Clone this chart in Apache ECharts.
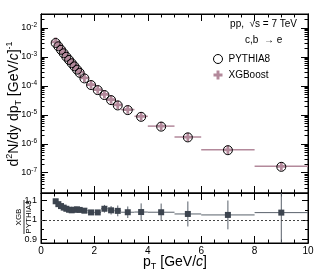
<!DOCTYPE html>
<html><head><meta charset="utf-8">
<script src="https://cdn.jsdelivr.net/npm/echarts@6/dist/echarts.min.js"></script>
<style>html,body{margin:0;padding:0;background:#fff}#c{width:319px;height:277px}</style>
</head><body><div id="c"></div>
<script>
// ---- data ----
const binLo = [0.5,0.6,0.7,0.8,0.9,1.0,1.1,1.2,1.3,1.4,1.5,1.75,2.0,2.25,2.5,2.75,3.0,3.5,4,5,6,8];
const binHi = [0.6,0.7,0.8,0.9,1.0,1.1,1.2,1.3,1.4,1.5,1.75,2.0,2.25,2.5,2.75,3.0,3.5,4,5,6,8,10];
const pythia8 = [3.0e-3,2.3e-3,1.74e-3,1.32e-3,1.0e-3,7.8e-4,6.0e-4,4.7e-4,3.6e-4,2.8e-4,1.8e-4,1.06e-4,7.1e-5,4.8e-5,3.2e-5,2.1e-5,1.45e-5,8.5e-6,3.9e-6,1.66e-6,6.0e-7,1.6e-7];
const xgboost = [3.29e-3,2.49e-3,1.865e-3,1.40e-3,1.06e-3,8.2e-4,6.3e-4,4.95e-4,3.8e-4,2.95e-4,1.89e-4,1.10e-4,7.4e-5,5.1e-5,3.36e-5,2.2e-5,1.51e-5,8.85e-6,4.06e-6,1.71e-6,6.16e-7,1.66e-7];
const ratio = [1.097,1.082,1.072,1.064,1.058,1.053,1.050,1.053,1.055,1.052,1.048,1.039,1.039,1.058,1.050,1.047,1.040,1.041,1.040,1.031,1.026,1.038];
const ratioErr = [0.003,0.003,0.003,0.003,0.003,0.003,0.003,0.004,0.004,0.004,0.005,0.008,0.010,0.020,0.022,0.028,0.030,0.045,0.045,0.065,0.075,0.16];
const xTickLabels = [0,2,4,6,8,10];
const yDecades = [1e-7,1e-6,1e-5,1e-4,1e-3,1e-2];
const ratioTickLabels = [0.9,1.0,1.1];
const ratioMinorTicks = [0.95,1.05];

// ---- derived ----
const yMin = 2e-8, yMax = 3e-2;
const yMinor = [];
for (let k = -8; k <= -2; k++) for (let m = 2; m <= 9; m++) { const v = m * Math.pow(10, k); if (v > yMin && v < yMax) yMinor.push(v); }
const centers = binLo.map((l, i) => (l + binHi[i]) / 2);
const pyData = centers.map((c, i) => [c, pythia8[i]]);
const xgData = centers.map((c, i) => [c, xgboost[i]]);
const xgErrData = centers.map((c, i) => [c, xgboost[i], binLo[i], binHi[i]]);
const rData = centers.map((c, i) => [c, ratio[i]]);
const rErrData = centers.map((c, i) => [c, ratio[i], binLo[i], binHi[i], ratioErr[i]]);

const mauve = '#b3899b';
const dark = '#3c444f';
const FONT = 'Liberation Sans';
const plusPath = 'path://M2.7,0H5.3V2.7H8V5.3H5.3V8H2.7V5.3H0V2.7H2.7Z';

function xAx(grid, pos, labels) {
  return {type:'value', gridIndex:grid, position:pos, min:0, max:10, interval:2,
    axisLine:{show:true, lineStyle:{color:'#000', width:1}},
    axisTick:{show:true, inside:true, length:7, lineStyle:{color:'#000'}},
    minorTick:{show:true, splitNumber:4, length:3.5, lineStyle:{color:'#000'}},
    splitLine:{show:false}, minorSplitLine:{show:false},
    axisLabel:{show:labels, margin:3, fontFamily:FONT, fontSize:10, color:'#000',
      customValues: labels ? xTickLabels : undefined}};
}
function yLog(pos, vals, len, labels) {
  return {type:'log', logBase:10, gridIndex:0, position:pos, min:yMin, max:yMax,
    axisLine:{show:true, lineStyle:{color:'#000'}},
    axisTick:{show:true, inside:true, length:len, customValues:vals, lineStyle:{color:'#000'}},
    splitLine:{show:false},
    axisLabel:{show:labels, margin:4, customValues:vals, color:'#000',
      formatter: v => '{b|10}{s|' + Math.round(Math.log10(v)) + '}',
      rich:{b:{fontFamily:FONT, fontSize:9, color:'#000'}, s:{fontFamily:FONT, fontSize:6.5, color:'#000', padding:[0,0,6,0]}}}};
}
function yRat(pos, vals, len, labels) {
  return {type:'value', gridIndex:1, position:pos, min:0.88, max:1.14,
    axisLine:{show:true, lineStyle:{color:'#000'}},
    axisTick:{show:true, inside:true, length:len, customValues:vals, lineStyle:{color:'#000'}},
    splitLine:{show:false},
    axisLabel:{show:labels, margin:4, customValues:vals, fontFamily:FONT, fontSize:9, color:'#000',
      formatter: v => String(Math.round(v*10)/10)}};
}

const chart = echarts.init(document.getElementById('c'), null, {renderer:'canvas'});
chart.setOption({
  animation:false,
  backgroundColor:'#fff',
  grid:[
    {left:41, right:11, top:14, height:179, show:true, borderColor:'#000', borderWidth:1, backgroundColor:'transparent'},
    {left:41, right:11, top:193, height:50, show:true, borderColor:'#000', borderWidth:1, backgroundColor:'transparent'}
  ],
  xAxis:[xAx(0,'bottom',false), xAx(0,'top',false), xAx(1,'bottom',true), xAx(1,'top',false)],
  yAxis:[yLog('left',yDecades,7,true), yLog('left',yMinor,3.5,false), yLog('right',yDecades,7,false), yLog('right',yMinor,3.5,false),
         yRat('left',ratioTickLabels,6,true), yRat('left',ratioMinorTicks,3,false), yRat('right',ratioTickLabels,6,false), yRat('right',ratioMinorTicks,3,false)],
  legend:{orient:'vertical', left:208, top:49, itemWidth:11, itemHeight:9, itemGap:6,
    itemStyle:{borderWidth:1},
    textStyle:{fontFamily:FONT, fontSize:10, color:'#000'}, data:['PYTHIA8','XGBoost']},
  graphic:[
    {type:'text', right:22, top:19, style:{text:'pp,  \u221As = 7 TeV', fontFamily:FONT, fontSize:10, fill:'#000'}},
    {type:'text', left:245, top:35, style:{text:'c,b  \u2192 e', fontFamily:FONT, fontSize:10, fill:'#000'}},
    {type:'text', x:14, y:104, rotation:Math.PI/2, style:{
      text:'{n|d}{sup|2}{n|N/dy dp}{sub|T}{n| [GeV/}{i|c}{n|]}{sup|-1}', align:'center', verticalAlign:'middle',
      rich:{n:{fontFamily:FONT, fontSize:14, fill:'#000'}, i:{fontFamily:FONT, fontSize:14, fontStyle:'italic', fill:'#000'},
        sup:{fontFamily:FONT, fontSize:9, fill:'#000', padding:[0,0,9,0]}, sub:{fontFamily:FONT, fontSize:9, fill:'#000', padding:[9,0,0,0]}}}},
    {type:'group', x:24, y:217, rotation:Math.PI/2, children:[
      {type:'text', x:0, y:-1, style:{text:'XGB', fontFamily:FONT, fontSize:8, fill:'#000', align:'center', verticalAlign:'bottom'}},
      {type:'line', shape:{x1:-17, y1:0, x2:17, y2:0}, style:{stroke:'#000', lineWidth:0.8}},
      {type:'text', x:0, y:1, style:{text:'PYTHIA8', fontFamily:FONT, fontSize:8, fill:'#000', align:'center', verticalAlign:'top'}}
    ]},
    {type:'text', x:175, y:262, style:{text:'{n|p}{sub|T}{n| [GeV/}{i|c}{n|]}', align:'center', verticalAlign:'middle',
      rich:{n:{fontFamily:FONT, fontSize:14, fill:'#000'}, i:{fontFamily:FONT, fontSize:14, fontStyle:'italic', fill:'#000'},
        sub:{fontFamily:FONT, fontSize:9, fill:'#000', padding:[9,0,0,0]}}}}
  ],
  series:[
    {type:'custom', name:'xgbErr', xAxisIndex:0, yAxisIndex:0, z:2, data:xgErrData,
      renderItem:(p, api) => {
        const y = api.value(1); const a = api.coord([api.value(2), y]); const b = api.coord([api.value(3), y]);
        return {type:'line', shape:{x1:a[0], y1:a[1], x2:b[0], y2:b[1]}, style:{stroke:mauve, lineWidth:1.5}};
      }},
    {type:'scatter', name:'XGBoost', xAxisIndex:0, yAxisIndex:0, z:3, data:xgData, symbol:plusPath, symbolSize:8.5,
      itemStyle:{color:mauve, opacity:1}},
    {type:'scatter', name:'PYTHIA8', xAxisIndex:0, yAxisIndex:0, z:4, data:pyData, symbol:'circle', symbolSize:9,
      itemStyle:{color:'rgba(0,0,0,0)', borderColor:'#000', borderWidth:1, opacity:1}},
    {type:'custom', name:'ratioErr', xAxisIndex:2, yAxisIndex:4, z:2, data:rErrData,
      renderItem:(p, api) => {
        const cs = p.coordSys; const top = cs.y, bot = cs.y + cs.height;
        const x = api.value(0), y = api.value(1), e = api.value(4);
        const a = api.coord([api.value(2), y]), b = api.coord([api.value(3), y]);
        const t = api.coord([x, y + e]), d = api.coord([x, y - e]);
        return {type:'group', children:[
          {type:'line', shape:{x1:a[0], y1:a[1], x2:b[0], y2:b[1]}, style:{stroke:'#59616b', lineWidth:1}},
          {type:'line', shape:{x1:t[0], y1:Math.max(t[1], top), x2:d[0], y2:Math.min(d[1], bot)}, style:{stroke:'#59616b', lineWidth:1}}
        ]};
      },
      markLine:{silent:true, symbol:'none', label:{show:false}, lineStyle:{color:'#444', type:[2,2], width:1},
        data:[{yAxis:1}]}},
    {type:'scatter', name:'ratio', xAxisIndex:2, yAxisIndex:4, z:3, data:rData, symbol:'rect', symbolSize:6,
      itemStyle:{color:dark, opacity:1}}
  ]
});
</script></body></html>
